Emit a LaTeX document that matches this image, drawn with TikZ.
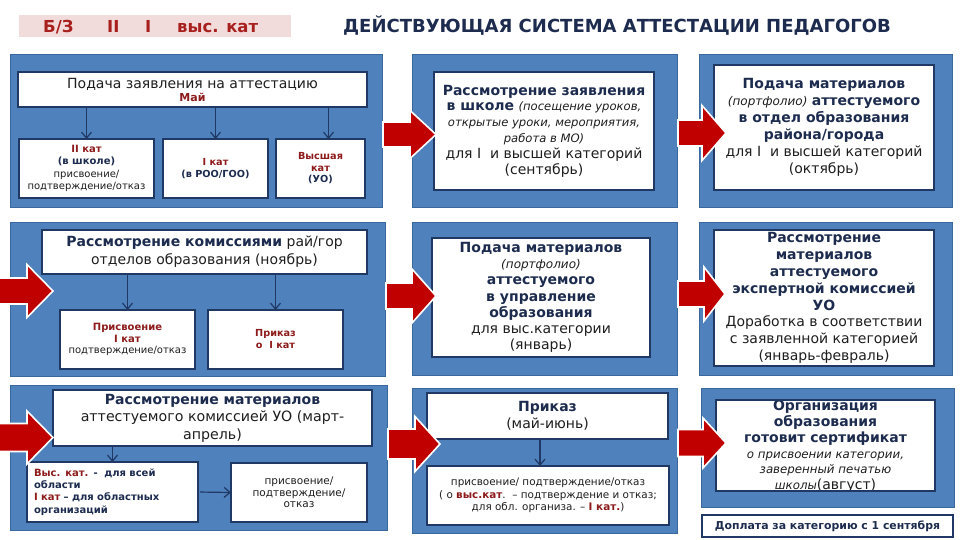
\documentclass[tikz,border=0pt]{standalone}
\usepackage{fontspec}
\setmainfont{DejaVu Sans}
\usetikzlibrary{arrows.meta}
\definecolor{panelblue}{HTML}{4F81BD}
\definecolor{paneledge}{HTML}{3A679C}
\definecolor{boxedge}{HTML}{1F3864}
\definecolor{hdnavy}{HTML}{1C2B4E}
\definecolor{txt}{HTML}{1E1E1E}
\definecolor{dred}{HTML}{8E1B1B}
\definecolor{arrred}{HTML}{C00000}
\definecolor{hdrpink}{HTML}{F2DCDB}
\definecolor{hdrred}{HTML}{A8201E}
\newcommand\fsz[2]{\fontsize{#1}{#2}\selectfont}
\newcommand\hdb{\bfseries\color{hdnavy}}
\newcommand\rdb{\bfseries\color{dred}}
\newcommand\rbox[7]{\node[#1, anchor=north west, minimum width={(#5-#3)*1pt}, minimum height={(#6-#4)*1pt}] (#2) at (#3,#4) {#7};}
\newcommand\blockarr[6]{\draw[blockarrow] (#1,{#4-#5}) -- (#2,{#4-#5}) -- (#2,{#4-#6}) -- (#3,#4) -- (#2,{#4+#6}) -- (#2,{#4+#5}) -- (#1,{#4+#5}) -- cycle;}
\tikzset{
  panel/.style={draw=paneledge, fill=panelblue, line width=0.9pt, inner sep=0pt, outer sep=0pt},
  wbox/.style={draw=boxedge, fill=white, line width=1.6pt, inner sep=0pt, outer sep=0pt, align=center, text=txt},
  plain/.style={inner sep=0pt, outer sep=0pt, align=center, text=txt},
  conn/.style={draw=boxedge, line width=1.2pt, -{Straight Barb[length=6pt,width=10pt]}},
  blockarrow/.style={fill=arrred, draw=white, line width=1.6pt, line join=miter}
}
\begin{document}
\begin{tikzpicture}[x=1pt,y=-1pt]
\fill[white] (0,0) rectangle (960,540);
\useasboundingbox (0,0) rectangle (960,540);

% header
\rbox{fill=hdrpink, inner sep=0pt}{hdr}{19}{15}{291}{37}{}
\node[anchor=base west, inner sep=0pt, text=hdrred, font=\fsz{16.5}{18}\bfseries] (hdrtxt) at (43,33)
  {\makebox[64pt][l]{Б/З}\makebox[38pt][l]{II}\makebox[32pt][l]{I}выс. кат};
\node[anchor=base west, inner sep=0pt, text=hdnavy, font=\fsz{18}{20}\bfseries] (title) at (343,33)
  {ДЕЙСТВУЮЩАЯ СИСТЕМА АТТЕСТАЦИИ ПЕДАГОГОВ};

% ---------- row 1 ----------
\rbox{panel}{p1}{10}{54}{382}{207}{}
\rbox{wbox, font=\fsz{14}{13}}{p1t}{18}{72}{367}{107}
  {Подача заявления на аттестацию\\{\fsz{11}{13}\rdb Май}}
\rbox{wbox, font=\fsz{10}{12.3}}{p1a}{19}{139}{154}{198}
  {{\rdb II кат}\\{\hdb (в школе)}\\присвоение/\\подтверждение/отказ}
\rbox{wbox, font=\fsz{9.7}{12.5}}{p1b}{163}{139}{268}{198}
  {{\rdb I кат}\\{\hdb (в РОО/ГОО)}}
\rbox{wbox, font=\fsz{9.7}{11.5}}{p1c}{276}{139}{365}{198}
  {{\rdb Высшая}\\{\rdb кат}\\{\hdb (УО)}}
\coordinate (c1) at (328.5,0);
\draw[conn] (p1t.south -| p1a.north) -- (p1a.north);
\draw[conn] (p1t.south -| p1b.north) -- (p1b.north);
\draw[conn] (p1t.south -| c1) -- (p1c.north -| c1);

\rbox{panel}{p2}{412}{54}{677}{207}{}
\rbox{wbox, font=\fsz{14}{15.8}}{p2w}{434}{72}{654}{190}
  {{\hdb Рассмотрение заявления}\\
   {\hdb в школе} {\itshape\fsz{11.6}{15.8}(посещение уроков,}\\
   {\itshape\fsz{11.6}{15.8}открытые уроки, мероприятия,}\\
   {\itshape\fsz{11.6}{15.8}работа в МО)}\\
   для I\ \ и высшей категорий\\
   (сентябрь)}

\rbox{panel}{p3}{699}{54}{952}{207}{}
\rbox{wbox, font=\fsz{14}{17}}{p3w}{714}{65}{934}{190}
  {{\hdb Подача материалов}\\
   {\itshape\fsz{12}{17}(портфолио)} {\hdb аттестуемого}\\
   {\hdb в отдел образования}\\
   {\hdb района/города}\\
   для I\ \ и высшей категорий\\
   (октябрь)}

% ---------- row 2 ----------
\rbox{panel}{p4}{10}{222}{385}{376}{}
\rbox{wbox, font=\fsz{14}{18}}{p4t}{42}{230}{367}{274}
  {{\hdb Рассмотрение комиссиями} рай/гор\\отделов образования (ноябрь)}
\rbox{wbox, font=\fsz{10}{11.5}}{p4a}{60}{310}{195}{369}
  {{\rdb Присвоение}\\{\rdb I кат}\\подтверждение/отказ}
\rbox{wbox, font=\fsz{9.7}{12}}{p4b}{208}{310}{343}{369}
  {{\rdb Приказ}\\{\rdb о\ \ I кат}}
\draw[conn] (p4t.south -| p4a.north) -- (p4a.north);
\draw[conn] (p4t.south -| p4b.north) -- (p4b.north);

\rbox{panel}{p5}{412}{222}{677}{375}{}
\rbox{wbox, font=\fsz{14}{16.2}}{p5w}{432}{238}{650}{357}
  {{\hdb Подача материалов}\\
   {\itshape\fsz{12}{16.2}(портфолио)}\\
   {\hdb аттестуемого}\\
   {\hdb в управление}\\
   {\hdb образования}\\
   для выс.категории\\
   (январь)}

\rbox{panel}{p6}{699}{222}{952}{375}{}
\rbox{wbox, font=\fsz{14}{16.8}}{p6w}{714}{230}{934}{366}
  {{\hdb Рассмотрение}\\
   {\hdb материалов}\\
   {\hdb аттестуемого}\\
   {\hdb экспертной комиссией}\\
   {\hdb УО}\\
   Доработка в соответствии\\
   с заявленной категорией\\
   (январь-февраль)}

% ---------- row 3 ----------
\rbox{panel}{p7}{10}{385}{387}{530}{}
\rbox{wbox, font=\fsz{14.2}{17.5}}{p7t}{53}{390}{372}{446}
  {{\hdb\fsz{14}{17.5}Рассмотрение материалов}\\аттестуемого комиссией УО (март-\\апрель)}
\rbox{wbox, align=left, text width=157pt, inner xsep=7pt, font=\fsz{10}{12.2}\bfseries}{p7a}{27}{462}{198}{522}
  {{\color{dred}Выс. кат.} {\color{hdnavy}-\ \ для всей}\\
   {\color{hdnavy}области}\\
   {\color{dred}I кат} {\color{hdnavy}– для областных}\\
   {\color{hdnavy}организаций}}
\rbox{wbox, font=\fsz{10.5}{11.7}}{p7b}{231}{463}{367}{522}
  {присвоение/\\подтверждение/\\отказ}
\draw[conn] (p7t.south -| p7a.north) -- (p7a.north);
\draw[conn, shorten <=2pt] (p7a.east) -- (p7b.west);

\rbox{panel}{p8}{412}{388}{677}{533}{}
\rbox{wbox, font=\fsz{14}{17}}{p8t}{427}{393}{668}{439}
  {{\hdb Приказ}\\(май-июнь)}
\rbox{wbox, font=\fsz{10.4}{12.5}}{p8b}{427}{466}{669}{525}
  {присвоение/ подтверждение/отказ\\
   ( о {\rdb выс.кат}.\ \ – подтверждение и отказ;\\
   для обл. организа. – {\rdb I кат.})}
\coordinate (c2) at (540,0);
\draw[conn] (p8t.south -| c2) -- (p8b.north -| c2);

\rbox{panel}{p9}{701}{388}{954}{507}{}
\rbox{wbox}{p9w}{716}{400}{935}{491}{}
\node[plain, font=\fsz{14}{15.8}] (p9txt) at ([yshift=-1pt]p9w.center)
  {{\hdb Организация}\\
   {\hdb образования}\\
   {\hdb готовит сертификат}\\
   {\itshape\fsz{11.8}{15.3}о присвоении категории,}\\
   {\itshape\fsz{11.8}{15.3}заверенный печатью}\\
   {\itshape\fsz{11.8}{15.3}школы}(август)};
\draw[draw=boxedge, line width=1.6pt] (p9w.north west) rectangle (p9w.south east);

\rbox{wbox, font=\fsz{10.9}{12}\bfseries}{p10}{702}{515}{953}{537}
  {{\color{hdnavy}Доплата за категорию с 1 сентября}}

% ---------- block arrows ----------
\blockarr{383}{410}{436}{134.5}{12.5}{24}
\blockarr{678}{702}{726}{133}{13}{27.5}
\blockarr{-3}{27}{53}{291}{13}{26.5}
\blockarr{386}{412}{436}{296}{13}{27}
\blockarr{678}{704}{725}{294}{13}{27}
\blockarr{-3}{27}{53}{437.5}{14}{26.5}
\blockarr{388}{415}{440}{444}{15}{27.5}
\blockarr{678}{703}{726}{443}{13.5}{25}
\end{tikzpicture}
\end{document}
